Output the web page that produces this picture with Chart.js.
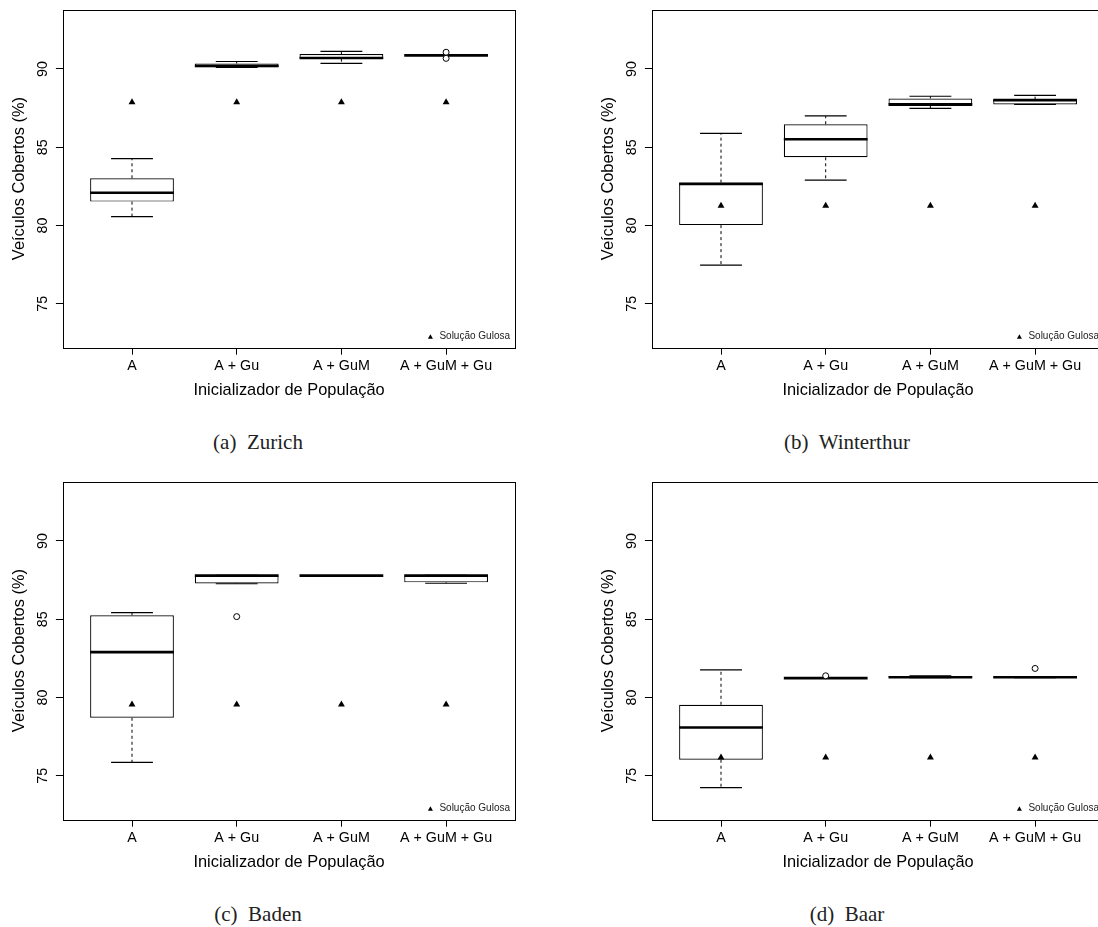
<!DOCTYPE html>
<html>
<head>
<meta charset="utf-8">
<script src="https://cdn.jsdelivr.net/npm/chart.js@4.4.1/dist/chart.umd.min.js"></script>
<style>
  body { margin: 0; background: #fff; }
  #pagina { position: relative; width: 1098px; height: 927px; overflow: hidden; background: #fff; }
  .painel { position: absolute; }
  .legenda {
    position: absolute; width: 300px; text-align: center;
    font: 21px "Liberation Serif", "Times New Roman", serif;
    color: #222; line-height: 24px; white-space: pre;
  }
</style>
</head>
<body>
<div id="pagina">
  <canvas id="zurich" class="painel" width="549" height="420" style="left:0px;top:0px"></canvas>
  <canvas id="winterthur" class="painel" width="549" height="420" style="left:589px;top:0px"></canvas>
  <canvas id="baden" class="painel" width="549" height="420" style="left:0px;top:472px"></canvas>
  <canvas id="baar" class="painel" width="549" height="420" style="left:589px;top:472px"></canvas>
  <div class="legenda" style="left:108px;top:430px">(a)  Zurich</div>
  <div class="legenda" style="left:697px;top:430px">(b)  Winterthur</div>
  <div class="legenda" style="left:108px;top:902px">(c)  Baden</div>
  <div class="legenda" style="left:697px;top:902px">(d)  Baar</div>
</div>
<script>
const categorias = ["A", "A + Gu", "A + GuM", "A + GuM + Gu"];
const ticksY = [75, 80, 85, 90];

// Zurich
const zurichMin = [80.57, 90.10, 90.36, 90.87];
const zurichQ1 = [81.53, 90.11, 90.66, 90.86];
const zurichMed = [82.10, 90.19, 90.70, 90.87];
const zurichQ3 = [83.02, 90.35, 90.96, 90.88];
const zurichMax = [84.27, 90.48, 91.13, 90.88];
const zurichFora = [[], [], [], [91.07, 90.68]];
const zurichGulosa = [87.87, 87.87, 87.87, 87.87];

// Winterthur
const winterMin = [77.48, 82.90, 87.49, 87.74];
const winterQ1 = [80.03, 84.36, 87.64, 87.74];
const winterMed = [82.66, 85.51, 87.74, 88.01];
const winterQ3 = [82.74, 86.47, 88.12, 88.04];
const winterMax = [85.89, 87.00, 88.26, 88.31];
const winterFora = [[], [], [], []];
const winterGulosa = [81.26, 81.26, 81.26, 81.26];

// Baden
const badenMin = [75.86, 87.27, 87.79, 87.30];
const badenQ1 = [78.71, 87.29, 87.79, 87.36];
const badenMed = [82.90, 87.79, 87.79, 87.79];
const badenQ3 = [85.26, 87.81, 87.79, 87.80];
const badenMax = [85.43, 87.81, 87.79, 87.80];
const badenFora = [[], [85.17], [], []];
const badenGulosa = [79.55, 79.55, 79.55, 79.55];

// Baar
const baarMin = [74.25, 81.22, 81.27, 81.27];
const baarQ1 = [76.03, 81.23, 81.28, 81.28];
const baarMed = [78.09, 81.24, 81.30, 81.30];
const baarQ3 = [79.54, 81.25, 81.37, 81.31];
const baarMax = [81.77, 81.26, 81.38, 81.33];
const baarFora = [[], [81.39], [], [81.86]];
const baarGulosa = [76.18, 76.18, 76.18, 76.18];

Chart.defaults.font.family = '"Liberation Sans", Arial, sans-serif';
Chart.defaults.color = "#000";

// moldura do grafico (box do R)
const moldura = {
  id: "moldura",
  afterDraw(chart) {
    const { ctx, chartArea } = chart;
    ctx.save();
    ctx.strokeStyle = "#000";
    ctx.lineWidth = 1;
    ctx.strokeRect(Math.round(chartArea.left) + 0.5, Math.round(chartArea.top) + 0.5,
      Math.round(chartArea.width), Math.round(chartArea.height));
    ctx.restore();
  }
};

// legenda "Solução Gulosa" no canto inferior direito
const legendaGulosa = {
  id: "legendaGulosa",
  afterDatasetsDraw(chart) {
    const ds = chart.data.datasets.find(d => d.pointStyle === "triangle");
    const { ctx, chartArea } = chart;
    ctx.save();
    ctx.font = '10px "Liberation Sans", Arial, sans-serif';
    ctx.fillStyle = "#222";
    ctx.textAlign = "right";
    ctx.textBaseline = "middle";
    const xTexto = chartArea.right - 5.2;
    const yTexto = chartArea.bottom - 11;
    ctx.fillText(ds.label, xTexto, yTexto);
    const largura = ctx.measureText(ds.label).width;
    const xp = xTexto - largura - 9;
    const yp = yTexto + 0.5;
    const r = 2.9;
    ctx.fillStyle = "#000";
    ctx.beginPath();
    ctx.moveTo(xp, yp - r);
    ctx.lineTo(xp + r * 0.866, yp + r / 2);
    ctx.lineTo(xp - r * 0.866, yp + r / 2);
    ctx.closePath();
    ctx.fill();
    ctx.restore();
  }
};

function criarBoxplot(id, min, q1, med, q3, max, fora, gulosa) {
  const caixas = [];
  const bigodes = [];
  const hastes = [];
  const medianas = [];
  const pontosFora = [];
  categorias.forEach((c, i) => {
    const x = i + 1;
    caixas.push({ x: x, y: [q1[i], q3[i]] });
    bigodes.push({ x: x, y: q3[i] }, { x: x, y: max[i] }, { x: x, y: null },
                 { x: x, y: q1[i] }, { x: x, y: min[i] }, { x: x, y: null });
    hastes.push({ x: x - 0.2, y: max[i] }, { x: x + 0.2, y: max[i] }, { x: x, y: null },
                { x: x - 0.2, y: min[i] }, { x: x + 0.2, y: min[i] }, { x: x, y: null });
    medianas.push({ x: x - 0.4, y: med[i] }, { x: x + 0.4, y: med[i] }, { x: x, y: null });
    fora[i].forEach(v => pontosFora.push({ x: x, y: v }));
  });
  const gulosos = gulosa.map((v, i) => ({ x: i + 1, y: v }));

  const fonteTick = { size: 14.3 };
  const grade = { offset: false, drawOnChartArea: false, drawTicks: true, tickLength: 7, color: "#000", lineWidth: 1 };

  new Chart(document.getElementById(id), {
    type: "bar",
    data: {
      datasets: [
        { type: "line", data: bigodes, borderColor: "#000", borderWidth: 1, borderDash: [3, 3],
          pointRadius: 0, spanGaps: false, order: 6 },
        { type: "line", data: hastes, borderColor: "#000", borderWidth: 1.2,
          pointRadius: 0, spanGaps: false, order: 5 },
        { type: "bar", data: caixas, backgroundColor: "#fff", borderColor: "#000", borderWidth: 1.2,
          borderSkipped: false, barPercentage: 0.8, categoryPercentage: 1, order: 4 },
        { type: "line", data: medianas, borderColor: "#000", borderWidth: 2.6,
          pointRadius: 0, spanGaps: false, order: 3 },
        { type: "scatter", data: pontosFora, pointStyle: "circle", pointRadius: 3,
          backgroundColor: "#fff", borderColor: "#000", borderWidth: 1, order: 2 },
        { type: "scatter", label: "Solução Gulosa", data: gulosos, pointStyle: "triangle", pointRadius: 4,
          backgroundColor: "#000", borderColor: "#000", borderWidth: 0, order: 1 }
      ]
    },
    options: {
      responsive: false,
      devicePixelRatio: 1,
      animation: false,
      events: [],
      layout: { padding: { left: 0, top: 9.5, right: 33.8, bottom: 12.3 } },
      plugins: { legend: { display: false }, tooltip: { enabled: false } },
      scales: {
        x: {
          type: "linear", min: 0.34, max: 4.66, offset: false,
          afterBuildTicks: s => { s.ticks = categorias.map((c, i) => ({ value: i + 1 })); },
          afterFit: s => { s.height = 60; s.paddingLeft = 0; s.paddingRight = 0; },
          ticks: { callback: v => categorias[Math.round(v) - 1], font: fonteTick, padding: 3,
                   maxRotation: 0, autoSkip: false },
          grid: grade,
          border: { display: false },
          title: { display: true, text: "Inicializador de População", font: { size: 16.4 },
                   padding: { top: 0, bottom: 7.4 } }
        },
        y: {
          min: 72.2, max: 93.8,
          afterBuildTicks: s => { s.ticks = ticksY.map(v => ({ value: v })); },
          afterFit: s => { s.width = 62.9; s.paddingTop = 0; s.paddingBottom = 0; },
          ticks: { font: fonteTick, minRotation: 90, maxRotation: 90, crossAlign: "center", padding: 5 },
          grid: grade,
          border: { display: false },
          title: { display: true, text: "Veículos Cobertos (%)", font: { size: 16.4 },
                   padding: { top: 9.5, bottom: 0 } }
        }
      }
    },
    plugins: [moldura, legendaGulosa]
  });
}

criarBoxplot("zurich", zurichMin, zurichQ1, zurichMed, zurichQ3, zurichMax, zurichFora, zurichGulosa);
criarBoxplot("winterthur", winterMin, winterQ1, winterMed, winterQ3, winterMax, winterFora, winterGulosa);
criarBoxplot("baden", badenMin, badenQ1, badenMed, badenQ3, badenMax, badenFora, badenGulosa);
criarBoxplot("baar", baarMin, baarQ1, baarMed, baarQ3, baarMax, baarFora, baarGulosa);
</script>
</body>
</html>
